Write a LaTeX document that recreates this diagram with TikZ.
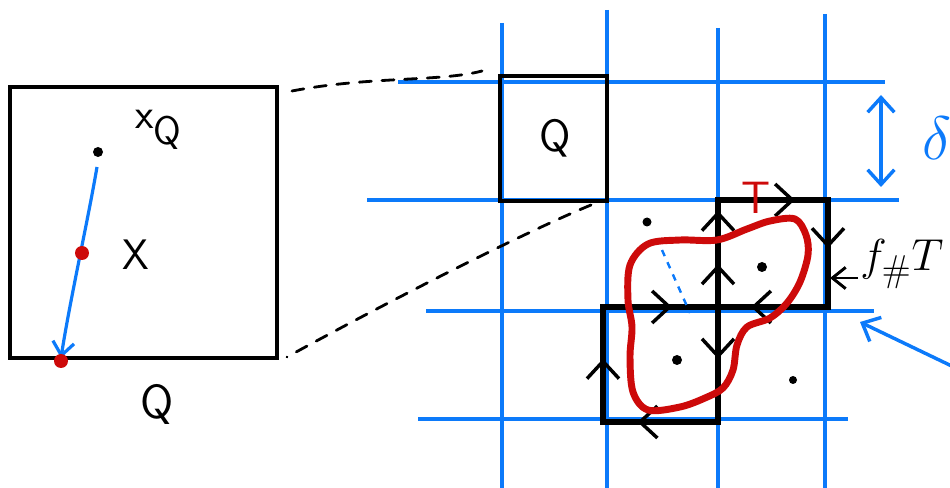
\documentclass[tikz,border=0pt]{standalone}
\usetikzlibrary{arrows.meta,decorations.markings}
\definecolor{gblue}{RGB}{12,122,250}
\definecolor{dred}{RGB}{205,10,10}
\begin{document}
\begin{tikzpicture}[x=0.75pt,y=-0.75pt,
  gridline/.style={gblue,line width=2.6pt},
  boxline/.style={black,line width=2.7pt},
  dashline/.style={black,line width=2.1pt,dash pattern=on 9pt off 8pt,line cap=round},
  chainline/.style={black,line width=4pt,line cap=round},
  midarr/.style={postaction={decorate},decoration={markings,mark=at position #1 with {\arrow[line width=2.6pt]{Straight Barb[length=13pt,width=24pt]}}}},
  redline/.style={dred,line width=5.2pt,line join=round},
  lbl/.style={inner sep=0pt,font=\sffamily\fontsize{32}{32}\selectfont}]
\useasboundingbox (0,0) rectangle (950,488);
% grid
\draw[gridline] (502,23) -- (502,490);
\draw[gridline] (607,10) -- (607,490);
\draw[gridline] (718,28) -- (718,490);
\draw[gridline] (825,14) -- (825,490);
\draw[gridline] (398,82) -- (885,82);
\draw[gridline] (367,200) -- (899,200);
\draw[gridline] (426,311) -- (874,311);
\draw[gridline] (418,419) -- (848,419);
% left big box
\draw[boxline] (10,87) rectangle (277,358);
\node[lbl,font=\sffamily\fontsize{36}{36}\selectfont] (Qbig) at (157,404) {Q};
\fill (98,152) circle (5);
\node[lbl,anchor=west] (xQ) at (135,130) {x\raisebox{-12pt}{\fontsize{30}{30}\selectfont Q}};
\node[lbl] (X) at (136,255) {X};
\draw[gblue,line width=2.4pt,-{Straight Barb[length=10pt,width=16pt]}] (97,167) .. controls (88,220) and (70,300) .. (61,358);
\fill[dred] (82,253) circle (7);
\fill[dred] (61,361) circle (7);
% small box Q
\draw[boxline] (500,76) rectangle (607,201);
\node[lbl,font=\sffamily\fontsize{34}{34}\selectfont] (Qsmall) at (555,138) {Q};
% dashed zoom lines
\draw[dashline] (292,91) .. controls (370,76) and (440,82) .. (482,71);
\draw[dashline] (591,205) .. controls (530,230) and (400,295) .. (287,357);
% black chain
\draw[chainline] (603,422) -- (603,307) -- (718,307) -- (718,200) -- (828,200) -- (828,307) -- (718,307) -- (718,422) -- cycle;
\path[midarr=0.55] (603,422) -- (603,307);
\path[midarr=0.6] (603,307) -- (718,307);
\path[midarr=0.4] (718,307) -- (718,200);
\path[midarr=0.9] (718,307) -- (718,200);
\path[midarr=0.7] (718,200) -- (828,200);
\path[midarr=0.45] (828,200) -- (828,307);
\path[midarr=0.7] (828,307) -- (718,307);
\path[midarr=0.45] (718,307) -- (718,422);
\path[midarr=0.7] (718,422) -- (603,422);
% red curve T
\draw[redline] plot[smooth cycle,tension=0.55] coordinates {(630,265) (648,244) (680,240) (717,240) (747,229) (770,221) (795,219) (806,235) (808,255) (800,282) (787,303) (770,318) (747,327) (737,345) (733,370) (723,388) (705,398) (680,407) (648,410) (633,392) (630,357) (632,327) (628,300)};
\node[lbl,text=dred,font=\sffamily\fontsize{34}{34}\selectfont] (Tlbl) at (756,198) {T};
\draw[gblue,line width=1.8pt,dash pattern=on 5pt off 5pt] (662,250) -- (690,313);
% dots
\fill (647,222) circle (4.5);
\fill (762,267) circle (5);
\fill (677,360) circle (5);
\fill (793,380) circle (4);
% delta arrow
\draw[gblue,line width=2.6pt,{Straight Barb[length=11pt,width=20pt]}-{Straight Barb[length=11pt,width=20pt]}] (881,95) -- (881,187);
\node[lbl,anchor=west,text=gblue,font=\Huge] (delta) at (922,138) {\scalebox{1.85}{$\delta$}};
% f#T
\node[lbl,anchor=west,font=\Huge] (fT) at (860,264) {\scalebox{1.35}{$f_{\#}T$}};
\draw[black,line width=2.2pt,-{Straight Barb[length=10pt,width=16pt]}] (fT.west) ++(-2,14) coordinate (fa) -- (830,278);
% blue pointer
\draw[gblue,line width=2.6pt,-{Straight Barb[length=11pt,width=20pt]}] (960,370) -- (860,322);
\end{tikzpicture}
\end{document}
